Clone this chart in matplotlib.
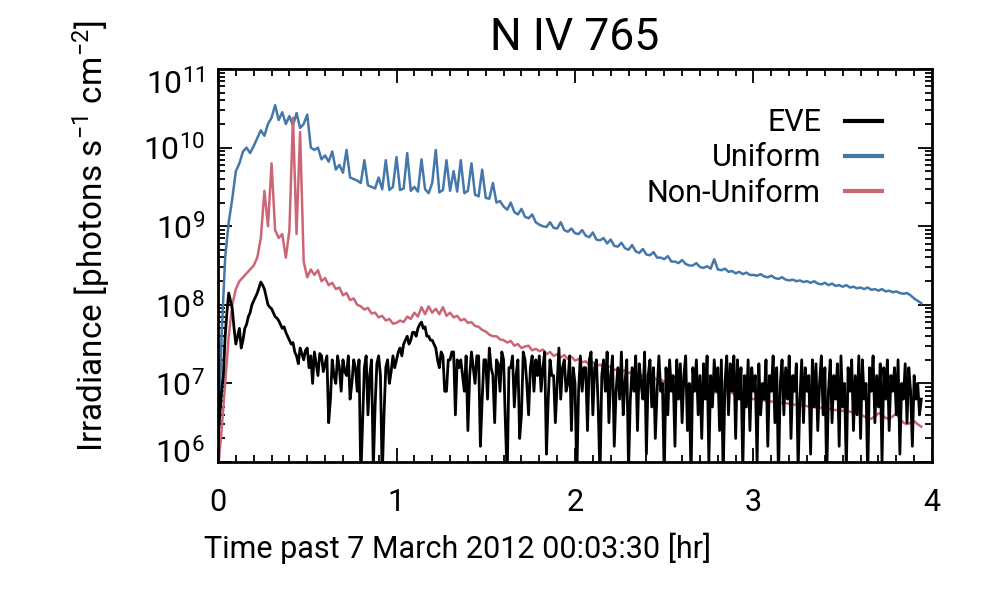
import numpy as np
import matplotlib
matplotlib.use("Agg")
import matplotlib.pyplot as plt
import matplotlib.transforms as mtransforms
from matplotlib.ticker import MultipleLocator, LogLocator, NullFormatter

plt.rcParams['font.family'] = ['Roboto', 'DejaVu Sans']
plt.rcParams['mathtext.fontset'] = 'custom'
plt.rcParams['mathtext.rm'] = 'Roboto'

# ---------------- data (log10 of irradiance, photons s^-1 cm^-2) ----------------
TITLE = "N IV 765"
XLABEL = "Time past 7 March 2012 00:03:30 [hr]"
YLABEL = r"Irradiance [photons s$^{-1}$ cm$^{-2}$]"
series_names = ["EVE", "Uniform", "Non-Uniform"]
x_ticks = [0, 1, 2, 3, 4]
y_tick_exponents = [6, 7, 8, 9, 10, 11]

eve_step = 0.01   # hr between EVE samples
model_step = 0.02  # hr between model samples

eve_log = [
    6.3, 6.6, 6.9, 7.1, 7.6, 7.9, 8.15, 8.05, 7.95, 7.7, 7.5, 7.6, 7.7, 7.45, 7.55, 7.7, 7.75, 7.85, 7.9, 8.0,
    8.05, 8.1, 8.15, 8.22, 8.29, 8.25, 8.2, 8.1, 8.0, 7.97, 7.95, 7.9, 7.85, 7.83, 7.8, 7.75, 7.7, 7.72, 7.65, 7.6,
    7.55, 7.5, 7.52, 7.4, 7.35, 7.25, 7.45, 7.38, 7.3, 7.42, 7.45, 7.2, 7.35, 7.0, 7.4, 7.25, 7.1, 7.38, 7.35, 7.15,
    7.25, 7.35, 6.5, 6.8, 7.3, 7.1, 7.0, 7.35, 7.2, 6.9, 7.3, 7.15, 7.1, 7.35, 6.8, 7.0, 7.3, 7.2, 6.9, 7.3,
    5.8, 6.5, 7.2, 7.35, 6.6, 7.1, 7.3, 5.9, 6.7, 7.25, 7.35, 7.1, 5.8, 6.6, 7.2, 7.3, 7.0, 7.15, 7.35, 7.2,
    7.3, 7.4, 7.45, 7.35, 7.5, 7.55, 7.6, 7.5, 7.55, 7.65, 7.65, 7.6, 7.7, 7.75, 7.78, 7.7, 7.72, 7.6, 7.6, 7.55,
    7.55, 7.5, 7.45, 7.3, 7.2, 7.4, 7.35, 6.9, 6.9, 7.3, 7.3, 7.4, 7.4, 6.6, 7.3, 7.2, 7.3, 7.1, 6.9, 7.35,
    6.4, 7.1, 7.4, 7.2, 7.0, 7.35, 7.35, 6.2, 6.8, 7.3, 7.3, 6.8, 7.45, 7.2, 7.1, 6.5, 7.3, 7.25, 6.9, 7.4,
    7.3, 6.5, 5.8, 7.2, 7.2, 7.35, 6.7, 7.1, 7.3, 6.3, 6.6, 7.4, 7.3, 7.0, 6.6, 7.2, 7.35, 6.9, 7.3, 7.1,
    7.35, 6.9, 7.2, 7.4, 6.1, 6.8, 7.3, 7.1, 7.1, 6.5, 7.0, 7.45, 6.8, 7.2, 7.3, 6.9, 7.0, 7.35, 6.4, 7.2,
    7.0, 5.8, 6.9, 7.35, 6.9, 7.2, 7.2, 6.4, 7.3, 7.4, 6.6, 7.2, 7.3, 6.7, 5.8, 7.1, 7.3, 6.9, 7.4, 6.5,
    7.1, 7.35, 6.2, 6.9, 7.2, 6.8, 7.4, 6.6, 7.0, 7.3, 5.9, 6.8, 7.2, 6.9, 7.35, 6.4, 7.25, 7.0, 6.8, 7.4,
    6.1, 7.1, 7.3, 6.7, 7.2, 6.3, 6.9, 7.35, 6.9, 7.0, 5.8, 7.2, 6.6, 7.3, 6.9, 7.1, 6.2, 7.3, 6.8, 7.25,
    6.5, 7.1, 7.35, 6.4, 7.0, 5.8, 7.2, 6.9, 7.3, 6.6, 7.1, 6.3, 7.25, 6.8, 7.35, 6.0, 7.1, 6.7, 7.3, 6.9,
    7.2, 6.4, 7.3, 5.8, 7.0, 7.35, 6.6, 7.25, 6.9, 7.35, 6.3, 7.3, 6.8, 7.2, 5.9, 7.1, 6.7, 7.3, 6.4, 7.2,
    6.9, 7.1, 6.0, 7.25, 6.6, 7.0, 6.8, 7.3, 6.2, 7.1, 6.9, 7.35, 6.5, 7.2, 5.8, 7.0, 7.3, 6.6, 7.2, 6.8,
    7.35, 6.3, 7.1, 6.9, 7.25, 5.9, 6.8, 7.3, 6.5, 7.2, 6.9, 7.1, 6.1, 7.3, 6.7, 7.25, 6.4, 7.0, 7.35, 6.6,
    7.2, 5.8, 6.9, 7.3, 6.5, 7.1, 6.8, 7.25, 6.2, 7.35, 6.7, 7.0, 5.9, 7.2, 6.9, 7.3, 6.4, 7.1, 6.6, 7.35,
    6.3, 7.3, 6.8, 7.0, 5.8, 7.2, 6.9, 7.35, 6.5, 7.1, 6.7, 7.25, 6.0, 7.2, 6.8, 7.3, 6.4, 7.1, 6.9, 7.2,
    6.6, 7.3, 6.1, 7.0, 6.8, 7.25, 6.5, 7.2, 6.9, 6.2, 7.1, 6.8, 7.0, 6.6, 6.8,
]

uniform_log = [
    6.0, 7.6, 8.6, 9.05, 9.35, 9.7, 9.8, 9.95, 10.0, 9.93,
    10.02, 10.12, 10.22, 10.15, 10.3, 10.38, 10.54, 10.35, 10.45, 10.3,
    10.4, 10.28, 10.44, 10.25, 10.3, 10.42, 10.0, 9.97, 10.0, 9.85,
    9.9, 9.82, 9.95, 9.72, 9.78, 9.68, 9.97, 9.62, 9.6, 9.58,
    9.55, 9.84, 9.52, 9.5, 9.48, 9.62, 9.47, 9.84, 9.46, 9.5,
    9.88, 9.46, 9.48, 9.93, 9.45, 9.5, 9.44, 9.85, 9.47, 9.42,
    9.55, 9.97, 9.43, 9.46, 9.84, 9.45, 9.7, 9.44, 9.84, 9.42,
    9.45, 9.8, 9.4, 9.38, 9.72, 9.36, 9.35, 9.55, 9.3, 9.32,
    9.25, 9.21, 9.3, 9.18, 9.15, 9.22, 9.12, 9.1, 9.15, 9.05,
    9.02, 9.0, 8.99, 9.05, 8.98, 8.97, 9.05, 8.95, 8.93, 8.97,
    8.91, 8.9, 8.95, 8.88, 8.86, 8.92, 8.83, 8.82, 8.85, 8.78,
    8.83, 8.75, 8.74, 8.79, 8.72, 8.7, 8.76, 8.68, 8.66, 8.71,
    8.64, 8.63, 8.67, 8.6, 8.6, 8.58, 8.62, 8.55, 8.55, 8.53,
    8.57, 8.52, 8.5, 8.5, 8.53, 8.48, 8.47, 8.49, 8.46, 8.58,
    8.45, 8.44, 8.46, 8.42, 8.43, 8.4, 8.42, 8.39, 8.41, 8.38,
    8.38, 8.37, 8.39, 8.36, 8.35, 8.37, 8.34, 8.33, 8.35, 8.32,
    8.31, 8.32, 8.3, 8.31, 8.29, 8.3, 8.28, 8.3, 8.27, 8.26,
    8.28, 8.25, 8.27, 8.24, 8.25, 8.23, 8.25, 8.22, 8.23, 8.21,
    8.22, 8.2, 8.22, 8.19, 8.2, 8.18, 8.2, 8.17, 8.18, 8.16,
    8.17, 8.15, 8.14, 8.15, 8.12, 8.08, 8.05, 8.02,
]

nonuniform_log = [
    5.9, 6.4, 7.0, 7.6, 8.0, 8.2, 8.3, 8.35, 8.4, 8.45,
    8.5, 8.6, 8.85, 9.45, 9.0, 9.8, 8.95, 8.85, 8.9, 8.6,
    8.95, 10.38, 8.9, 10.2, 8.55, 8.35, 8.45, 8.38, 8.44, 8.3,
    8.34, 8.25, 8.28, 8.2, 8.22, 8.12, 8.15, 8.06, 8.08, 8.0,
    7.98, 7.94, 7.96, 7.89, 7.9, 7.84, 7.86, 7.8, 7.82, 7.76,
    7.77, 7.8, 7.78, 7.85, 7.82, 7.9, 7.85, 7.97, 7.88, 7.98,
    7.9, 7.95, 7.88, 7.97, 7.86, 7.9, 7.84, 7.86, 7.8, 7.82,
    7.77, 7.78, 7.73, 7.72, 7.68, 7.66, 7.62, 7.6, 7.6, 7.56,
    7.55, 7.52, 7.54, 7.48, 7.5, 7.45, 7.47, 7.48, 7.42, 7.44,
    7.41, 7.43, 7.37, 7.4, 7.35, 7.37, 7.33, 7.36, 7.31, 7.34,
    7.29, 7.31, 7.27, 7.28, 7.24, 7.27, 7.22, 7.24, 7.21, 7.2,
    7.22, 7.17, 7.18, 7.15, 7.17, 7.13, 7.15, 7.11, 7.12, 7.09,
    7.1, 7.06, 7.08, 7.04, 7.05, 7.02, 7.04, 7.01, 7.0, 6.98,
    7.0, 6.96, 6.97, 6.94, 6.96, 6.92, 6.93, 6.9, 6.91, 6.89,
    6.88, 6.87, 6.9, 6.95, 6.88, 6.84, 6.83, 6.83, 6.82, 6.81,
    6.8, 6.8, 6.79, 6.78, 6.78, 6.77, 6.76, 6.76, 6.75, 6.75,
    6.74, 6.73, 6.73, 6.72, 6.72, 6.71, 6.7, 6.7, 6.69, 6.69,
    6.68, 6.68, 6.67, 6.66, 6.66, 6.65, 6.65, 6.64, 6.63, 6.62,
    6.6, 6.58, 6.56, 6.55, 6.58, 6.62, 6.6, 6.56, 6.55, 6.58,
    6.62, 6.55, 6.5, 6.48, 6.5, 6.52, 6.48, 6.45,
]

colors = {"EVE": "#000000", "Uniform": "#4477AA", "Non-Uniform": "#CC6677"}

# ---------------- figure ----------------
t_eve = eve_step * np.arange(len(eve_log))
t_uni = model_step * np.arange(len(uniform_log))
t_non = model_step * np.arange(len(nonuniform_log))

fig = plt.figure(figsize=(10, 6), dpi=100)
ax = fig.add_axes([0.218, 0.23, 0.714, 0.655])

l_uni, = ax.plot(t_uni, 10.0 ** np.array(uniform_log), color=colors["Uniform"], lw=1.8)
l_non, = ax.plot(t_non, 10.0 ** np.array(nonuniform_log), color=colors["Non-Uniform"], lw=1.8)
l_eve, = ax.plot(t_eve, 10.0 ** np.array(eve_log), color=colors["EVE"], lw=2.0)

ax.set_yscale('log')
ax.set_xlim(0, 4)
ax.set_ylim(10.0 ** y_tick_exponents[0], 10.0 ** y_tick_exponents[-1])

ax.xaxis.set_major_locator(MultipleLocator(1))
ax.xaxis.set_minor_locator(MultipleLocator(0.1))
ax.set_xticks(x_ticks)
ax.set_xticklabels([str(v) for v in x_ticks])
ax.yaxis.set_major_locator(LogLocator(base=10, numticks=12))
ax.yaxis.set_minor_locator(LogLocator(base=10, subs=np.arange(2, 10), numticks=100))
ax.yaxis.set_minor_formatter(NullFormatter())

for s in ax.spines.values():
    s.set_linewidth(2.0)
ax.tick_params(which='both', direction='in', top=True, right=True, width=1.3, color='black')
ax.tick_params(which='major', length=10)
ax.tick_params(which='minor', length=5)
ax.tick_params(axis='y', labelleft=False)
ax.tick_params(axis='x', labelsize=22, pad=19)

# y tick labels (IDL style: end labels nudged inside the axis range)
ytrans = mtransforms.blended_transform_factory(ax.transAxes, ax.transData)
shift_px = {y_tick_exponents[0]: 12, y_tick_exponents[-1]: -12}
for e in y_tick_exponents:
    off = mtransforms.ScaledTranslation(-13 / 100, (shift_px.get(e, 0) - 3) / 100, fig.dpi_scale_trans)
    ax.text(0, 10.0 ** e, r'$\mathdefault{10^{%d}}$' % e, transform=ytrans + off,
            ha='right', va='center', fontsize=23)

ax.set_title(TITLE, fontsize=32, pad=14)
ax.set_xlabel(XLABEL, fontsize=22)
ax.xaxis.set_label_coords(0.336, -0.181)
ax.set_ylabel(YLABEL, fontsize=24)
ax.yaxis.set_label_coords(-0.1485, 0.575)

leg = ax.legend([l_eve, l_uni, l_non], series_names, loc='upper right',
                bbox_to_anchor=(0.930, 0.90), frameon=False, markerfirst=False,
                fontsize=22, handlelength=1.2, handletextpad=0.8, labelspacing=0.2,
                borderpad=0, borderaxespad=0)
for ln in leg.get_lines():
    ln.set_linewidth(3.0)

fig.savefig("out.png", dpi=100)
